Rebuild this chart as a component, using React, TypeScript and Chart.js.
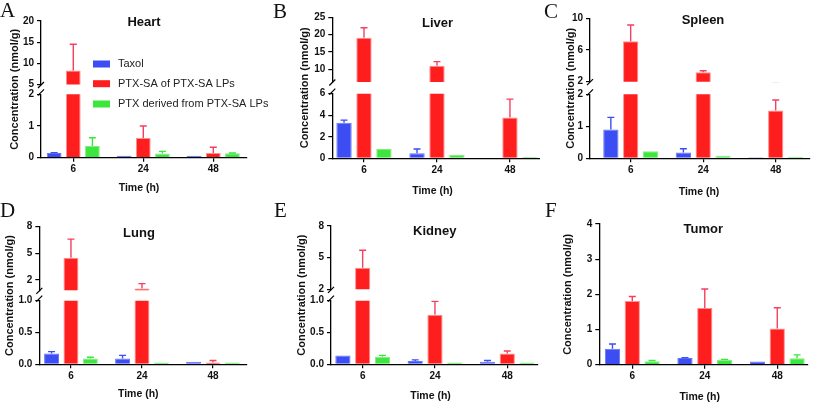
import React, { useEffect, useRef } from "react";
import { Chart, registerables } from "chart.js";
Chart.register(...registerables);

// ---------- data ----------
const times = ["6", "24", "48"];
const seriesNames = ["Taxol", "PTX-SA of PTX-SA LPs", "PTX derived from PTX-SA LPs"];

// Heart
const heartTaxol = [0.15, 0.06, 0.06];
const heartTaxolErr = [0.01, 0, 0];
const heartSA = [8.3, 0.62, 0.15];
const heartSAErr = [6.2, 0.38, 0.18];
const heartPTX = [0.37, 0.13, 0.14];
const heartPTXErr = [0.26, 0.07, 0.01];
const heartTopTicks = [5, 10, 15, 20];
const heartBotTicks = [0, 1, 2];

// Liver
const liverTaxol = [3.3, 0.46, 0.05];
const liverTaxolErr = [0.25, 0.4, 0];
const liverSA = [19.1, 11.0, 3.8];
const liverSAErr = [2.9, 1.2, 1.7];
const liverPTX = [0.86, 0.34, 0.12];
const liverPTXErr = [0, 0, 0];
const liverTopTicks = [10, 15, 20, 25];
const liverBotTicks = [0, 2, 4, 6];

// Spleen
const spleenTaxol = [0.9, 0.18, 0.03];
const spleenTaxolErr = [0.38, 0.12, 0];
const spleenSA = [7.1, 3.18, 1.49];
const spleenSAErr = [2.05, 0.2, 0.33];
const spleenPTX = [0.22, 0.08, 0.05];
const spleenPTXErr = [0, 0, 0];
const spleenTopTicks = [2, 6, 10];
const spleenBotTicks = [0, 1, 2];

// Lung
const lungTaxol = [0.17, 0.09, 0.04];
const lungTaxolErr = [0.03, 0.05, 0];
const lungSA = [4.5, 1.05, 0.03];
const lungSAErr = [2.1, 0.55, 0.03];
const lungPTX = [0.09, 0.03, 0.03];
const lungPTXErr = [0.02, 0, 0];
const lungTopTicks = [2, 5, 8];
const lungBotTicks = [0, 0.5, 1];

// Kidney
const kidneyTaxol = [0.14, 0.05, 0.04];
const kidneyTaxolErr = [0, 0.02, 0.02];
const kidneySA = [4.05, 0.78, 0.17];
const kidneySAErr = [1.65, 0.21, 0.04];
const kidneyPTX = [0.12, 0.03, 0.03];
const kidneyPTXErr = [0.02, 0, 0];
const kidneyTopTicks = [2, 5, 8];
const kidneyBotTicks = [0, 0.5, 1];

// Tumor
const tumorTaxol = [0.45, 0.19, 0.09];
const tumorTaxolErr = [0.14, 0.01, 0];
const tumorSA = [1.81, 1.61, 1.03];
const tumorSAErr = [0.13, 0.54, 0.59];
const tumorPTX = [0.1, 0.14, 0.18];
const tumorPTXErr = [0.02, 0.01, 0.1];
const tumorTicks = [0, 1, 2, 3, 4];

// ---------- styles ----------
const FONT = '"Liberation Sans", Arial, Helvetica, sans-serif';
const SERIF = '"Liberation Serif", "Times New Roman", serif';
const fills = ["#3B4DF3", "#FF1E1E", "#3DE63D"];
const borders = ["#6676F6", "#FF8E8E", "#80EE80"];
const errColors = ["#3B4DF3", "#F4405F", "#3DE63D"];
const tickFont = { family: FONT, size: 10, weight: "bold" as const };
const Y_W = 25;
const X_H = 20;

type Seg = { min: number; max: number; ticks: number[]; dec: number; h: number };
type Panel = {
  key: string;
  letter: string;
  title: string;
  canvas: { left: number; top: number; w: number; h: number };
  axisX: number;
  plotTop: number;
  plotBottom: number;
  plotRight: number;
  segs: Seg[];
  gapH: number;
  xMin: number;
  xMax: number;
  letterPos: [number, number];
  titlePos: [number, number];
  yTitleX: number;
  xTitlePos: [number, number];
  series: { vals: number[]; errs: number[] }[];
  legend?: boolean;
};

const panels: Panel[] = [
  {
    key: "A", letter: "A", title: "Heart",
    canvas: { left: 0, top: 0, w: 270, h: 200 },
    axisX: 41, plotTop: 21, plotBottom: 157.7, plotRight: 246.7,
    segs: [
      { min: 5, max: 20, ticks: heartTopTicks, dec: 0, h: 63.5 },
      { min: 0, max: 2, ticks: heartBotTicks, dec: 0, h: 63.4 },
    ],
    gapH: 9.8, xMin: -0.461, xMax: 2.477,
    letterPos: [0, 17], titlePos: [144, 22], yTitleX: 15, xTitlePos: [139, 188],
    series: [
      { vals: heartTaxol, errs: heartTaxolErr },
      { vals: heartSA, errs: heartSAErr },
      { vals: heartPTX, errs: heartPTXErr },
    ],
    legend: true,
  },
  {
    key: "B", letter: "B", title: "Liver",
    canvas: { left: 270, top: 0, w: 270, h: 200 },
    axisX: 332.3, plotTop: 17.3, plotBottom: 158.3, plotRight: 539.3,
    segs: [
      { min: 6.3, max: 25, ticks: liverTopTicks, dec: 0, h: 64.7 },
      { min: 0, max: 6, ticks: liverBotTicks, dec: 0, h: 64.6 },
    ],
    gapH: 11.7, xMin: -0.434, xMax: 2.402,
    letterPos: [273, 18], titlePos: [437.5, 23.3], yTitleX: 305, xTitlePos: [432.5, 191],
    series: [
      { vals: liverTaxol, errs: liverTaxolErr },
      { vals: liverSA, errs: liverSAErr },
      { vals: liverPTX, errs: liverPTXErr },
    ],
  },
  {
    key: "C", letter: "C", title: "Spleen",
    canvas: { left: 540, top: 0, w: 273, h: 200 },
    axisX: 590, plotTop: 18.3, plotBottom: 158.3, plotRight: 810,
    segs: [
      { min: 2, max: 10, ticks: spleenTopTicks, dec: 0, h: 63.4 },
      { min: 0, max: 2, ticks: spleenBotTicks, dec: 0, h: 64 },
    ],
    gapH: 12.6, xMin: -0.561, xMax: 2.473,
    letterPos: [544, 18], titlePos: [703, 20], yTitleX: 571, xTitlePos: [699, 192],
    series: [
      { vals: spleenTaxol, errs: spleenTaxolErr },
      { vals: spleenSA, errs: spleenSAErr },
      { vals: spleenPTX, errs: spleenPTXErr },
    ],
  },
  {
    key: "D", letter: "D", title: "Lung",
    canvas: { left: 0, top: 200, w: 270, h: 206 },
    axisX: 39.3, plotTop: 226.7, plotBottom: 364.3, plotRight: 246.7,
    segs: [
      { min: 0.85, max: 8, ticks: lungTopTicks, dec: 0, h: 63.6 },
      { min: 0, max: 1, ticks: lungBotTicks, dec: 1, h: 63.6 },
    ],
    gapH: 10.4, xMin: -0.446, xMax: 2.475,
    letterPos: [0, 217], titlePos: [139, 233.3], yTitleX: 10, xTitlePos: [138.3, 394.5],
    series: [
      { vals: lungTaxol, errs: lungTaxolErr },
      { vals: lungSA, errs: lungSAErr },
      { vals: lungPTX, errs: lungPTXErr },
    ],
  },
  {
    key: "E", letter: "E", title: "Kidney",
    canvas: { left: 270, top: 200, w: 270, h: 206 },
    axisX: 331, plotTop: 226, plotBottom: 364.3, plotRight: 538,
    segs: [
      { min: 2, max: 8, ticks: kidneyTopTicks, dec: 0, h: 63.3 },
      { min: 0, max: 1, ticks: kidneyBotTicks, dec: 1, h: 63.6 },
    ],
    gapH: 11.4, xMin: -0.438, xMax: 2.425,
    letterPos: [274, 217], titlePos: [434.7, 231.7], yTitleX: 302, xTitlePos: [430.5, 396],
    series: [
      { vals: kidneyTaxol, errs: kidneyTaxolErr },
      { vals: kidneySA, errs: kidneySAErr },
      { vals: kidneyPTX, errs: kidneyPTXErr },
    ],
  },
  {
    key: "F", letter: "F", title: "Tumor",
    canvas: { left: 540, top: 200, w: 273, h: 206 },
    axisX: 599.3, plotTop: 224, plotBottom: 364.7, plotRight: 808,
    segs: [{ min: 0, max: 4, ticks: tumorTicks, dec: 0, h: 140.7 }],
    gapH: 0, xMin: -0.455, xMax: 2.424,
    letterPos: [545, 217], titlePos: [703.3, 229.3], yTitleX: 568, xTitlePos: [699.7, 397],
    series: [
      { vals: tumorTaxol, errs: tumorTaxolErr },
      { vals: tumorSA, errs: tumorSAErr },
      { vals: tumorPTX, errs: tumorPTXErr },
    ],
  },
];

function decorPlugin(p: Panel) {
  const ox = p.canvas.left;
  const oy = p.canvas.top;
  return {
    id: "decor" + p.key,
    afterDatasetsDraw(chart: any) {
      const ctx = chart.ctx;
      chart.data.datasets.forEach((ds: any, di: number) => {
        const meta = chart.getDatasetMeta(di);
        const ys = meta.yScale;
        const xs = meta.xScale;
        ctx.save();
        ctx.beginPath();
        ctx.rect(xs.left, ys.top - 0.5, xs.right - xs.left, ys.bottom - ys.top + 1);
        ctx.clip();
        ctx.strokeStyle = ds.errColor;
        ctx.lineWidth = 1.4;
        meta.data.forEach((el: any, j: number) => {
          const e = ds.errs[j];
          if (!e) return;
          const x = el.x;
          const y0 = el.y;
          const y1 = ys.getPixelForValue(ds.vals[j] + e);
          ctx.beginPath();
          ctx.moveTo(x, y0);
          ctx.lineTo(x, y1);
          ctx.moveTo(x - 3.5, y1);
          ctx.lineTo(x + 3.5, y1);
          ctx.stroke();
        });
        ctx.restore();
      });
    },
    afterDraw(chart: any) {
      const ctx = chart.ctx;
      const ca = chart.chartArea;
      ctx.save();
      ctx.fillStyle = "#111";
      // panel letter
      ctx.font = `21px ${SERIF}`;
      ctx.textAlign = "left";
      ctx.textBaseline = "alphabetic";
      ctx.fillText(p.letter, p.letterPos[0] - ox, p.letterPos[1] - oy);
      // title
      ctx.font = `bold 13px ${FONT}`;
      ctx.textAlign = "center";
      ctx.textBaseline = "middle";
      ctx.fillText(p.title, p.titlePos[0] - ox, p.titlePos[1] - oy);
      // x title
      ctx.font = `bold 10.5px ${FONT}`;
      ctx.fillText("Time (h)", p.xTitlePos[0] - ox, p.xTitlePos[1] - oy);
      // y title
      ctx.save();
      ctx.translate(p.yTitleX - ox, (ca.top + ca.bottom) / 2);
      ctx.rotate(-Math.PI / 2);
      ctx.font = `bold 11px ${FONT}`;
      ctx.fillText("Concentration (nmol/g)", 0, 0);
      ctx.restore();
      // break marks
      if (p.segs.length > 1) {
        const yt = chart.scales.y0;
        const yb = chart.scales.y1;
        const L = ca.left;
        ctx.strokeStyle = "#000";
        ctx.lineWidth = 1.2;
        const slash = (y: number) => {
          ctx.beginPath();
          ctx.moveTo(L - 3, y + 3);
          ctx.lineTo(L + 3, y - 3);
          ctx.stroke();
        };
        slash(yt.bottom + 0.5);
        slash(yb.top - 2);
      }
      // legend
      if (p.legend) {
        const rows = [64, 83.7, 104];
        ctx.font = `11px ${FONT}`;
        ctx.textAlign = "left";
        ctx.textBaseline = "middle";
        seriesNames.forEach((name, k) => {
          ctx.fillStyle = fills[k];
          ctx.fillRect(93 - ox, rows[k] - 3.5 - oy, 17, 7);
          ctx.fillStyle = "#222";
          ctx.fillText(name, 118 - ox, rows[k] - oy);
        });
      }
      ctx.restore();
    },
  };
}

function buildConfig(p: Panel): any {
  const padLeft = p.axisX - p.canvas.left - Y_W;
  const padRight = p.canvas.left + p.canvas.w - p.plotRight;
  const padTop = p.plotTop - p.canvas.top;
  const padBottom = p.canvas.top + p.canvas.h - p.plotBottom - X_H;

  const scales: any = {
    x: {
      type: "linear",
      min: p.xMin,
      max: p.xMax,
      offset: false,
      grid: {
        display: true, drawOnChartArea: false, drawTicks: true, tickLength: 4,
        color: "#000", lineWidth: 1.2, offset: false,
      },
      border: { display: true, color: "#000", width: 1.3, z: 1 },
      ticks: {
        font: tickFont, color: "#111", padding: 2, autoSkip: false, maxRotation: 0,
        callback: (v: number) => times[v] ?? "",
      },
      afterBuildTicks: (s: any) => {
        s.ticks = times.map((_, i) => ({ value: i }));
      },
      afterFit: (s: any) => {
        s.height = X_H;
      },
    },
  };

  const weights = [3, 1];
  p.segs.forEach((sg, si) => {
    scales["y" + si] = {
      type: "linear",
      position: "left",
      stack: "v",
      stackWeight: sg.h,
      weight: weights[si],
      stacked: false,
      min: sg.min,
      max: sg.max,
      grid: { display: true, drawOnChartArea: false, drawTicks: true, tickLength: 4, color: "#000", lineWidth: 1.2 },
      border: { display: true, color: "#000", width: 1.3, z: 1 },
      ticks: {
        font: tickFont, color: "#111", padding: 3, autoSkip: false,
        callback: (v: number) => Number(v).toFixed(sg.dec),
      },
      afterBuildTicks: (s: any) => {
        s.ticks = sg.ticks.map((v) => ({ value: v }));
      },
      afterFit: (s: any) => {
        s.width = Y_W;
      },
    };
  });
  if (p.segs.length > 1) {
    scales.gap = {
      type: "linear",
      position: "left",
      stack: "v",
      stackWeight: p.gapH,
      weight: 2,
      display: false,
    };
  }

  const datasets: any[] = [];
  p.series.forEach((s, k) => {
    p.segs.forEach((_, si) => {
      datasets.push({
        label: seriesNames[k],
        data: s.vals.map((v, i) => ({ x: i, y: v })),
        vals: s.vals,
        errs: s.errs,
        errColor: errColors[k],
        yAxisID: "y" + si,
        xAxisID: "x",
        stack: "s" + k,
        backgroundColor: fills[k],
        borderColor: borders[k],
        borderWidth: 1,
        categoryPercentage: 0.82,
        barPercentage: 0.77,
        clip: 0,
      });
    });
  });

  return {
    type: "bar",
    data: { datasets },
    options: {
      responsive: false,
      animation: false,
      devicePixelRatio: 1,
      layout: { padding: { left: padLeft, right: padRight, top: padTop, bottom: padBottom } },
      plugins: { legend: { display: false }, tooltip: { enabled: false }, title: { display: false } },
      scales,
    },
    plugins: [decorPlugin(p)],
  };
}

function PanelChart({ p }: { p: Panel }) {
  const ref = useRef<HTMLCanvasElement>(null);
  useEffect(() => {
    if (!ref.current) return;
    const chart = new Chart(ref.current, buildConfig(p));
    return () => chart.destroy();
  }, [p]);
  return (
    <canvas
      ref={ref}
      width={p.canvas.w}
      height={p.canvas.h}
      style={{ position: "absolute", left: p.canvas.left, top: p.canvas.top, width: p.canvas.w, height: p.canvas.h }}
    />
  );
}

export default function App() {
  return (
    <div style={{ position: "absolute", left: 0, top: 0, width: 813, height: 406, background: "#fff", overflow: "hidden" }}>
      {panels.map((p) => (
        <PanelChart key={p.key} p={p} />
      ))}
    </div>
  );
}
